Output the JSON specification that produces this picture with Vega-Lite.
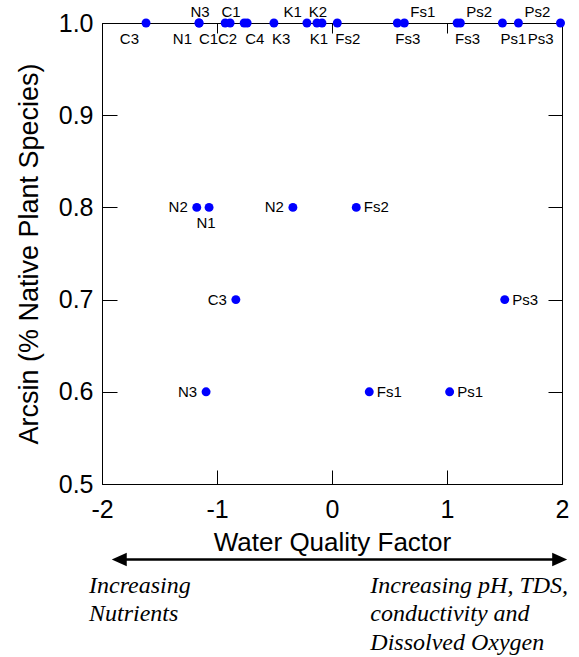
{
  "$schema": "https://vega.github.io/schema/vega-lite/v6.json",
  "width": 460,
  "height": 461,
  "autosize": "none",
  "padding": {"left": 102, "top": 23, "right": 17, "bottom": 173},
  "datasets": {
    "points": [
      {"site": "C3", "wqf": -1.617, "arcsin": 1.0, "pos": "BL"},
      {"site": "N3", "wqf": -1.156, "arcsin": 1.0, "pos": "A"},
      {"site": "N1", "wqf": -1.156, "arcsin": 1.0, "pos": "BL"},
      {"site": "C1", "wqf": -0.929, "arcsin": 1.0, "pos": "BL"},
      {"site": "C1", "wqf": -0.886, "arcsin": 1.0, "pos": "A"},
      {"site": "C2", "wqf": -0.764, "arcsin": 1.0, "pos": "BL"},
      {"site": "C4", "wqf": -0.738, "arcsin": 1.0, "pos": "BR"},
      {"site": "K3", "wqf": -0.505, "arcsin": 1.0, "pos": "BR"},
      {"site": "K1", "wqf": -0.218, "arcsin": 1.0, "pos": "AL"},
      {"site": "K2", "wqf": -0.131, "arcsin": 1.0, "pos": "A"},
      {"site": "K1", "wqf": -0.087, "arcsin": 1.0, "pos": "B"},
      {"site": "Fs2", "wqf": 0.046, "arcsin": 1.0, "pos": "BR"},
      {"site": "Fs3", "wqf": 0.568, "arcsin": 1.0, "pos": "BR"},
      {"site": "Fs1", "wqf": 0.629, "arcsin": 1.0, "pos": "AR"},
      {"site": "Fs3", "wqf": 1.088, "arcsin": 1.0, "pos": "BR"},
      {"site": "Ps2", "wqf": 1.116, "arcsin": 1.0, "pos": "AR"},
      {"site": "Ps1", "wqf": 1.482, "arcsin": 1.0, "pos": "BR"},
      {"site": "Ps2", "wqf": 1.621, "arcsin": 1.0, "pos": "AR"},
      {"site": "Ps3", "wqf": 1.987, "arcsin": 1.0, "pos": "BL"},
      {"site": "N2", "wqf": -1.176, "arcsin": 0.8, "pos": "L"},
      {"site": "N1", "wqf": -1.069, "arcsin": 0.8, "pos": "B"},
      {"site": "N2", "wqf": -0.34, "arcsin": 0.8, "pos": "L"},
      {"site": "Fs2", "wqf": 0.211, "arcsin": 0.8, "pos": "R"},
      {"site": "C3", "wqf": -0.836, "arcsin": 0.7, "pos": "L"},
      {"site": "Ps3", "wqf": 1.502, "arcsin": 0.7, "pos": "R"},
      {"site": "N3", "wqf": -1.095, "arcsin": 0.6, "pos": "L"},
      {"site": "Fs1", "wqf": 0.324, "arcsin": 0.6, "pos": "R"},
      {"site": "Ps1", "wqf": 1.023, "arcsin": 0.6, "pos": "R"}
    ],
    "arrow": [
      {"wqf": -1.85, "wqf2": 1.98, "arcsin": 0.418}
    ],
    "heads": [
      {"wqf": -1.85, "arcsin": 0.418, "dir": "left"},
      {"wqf": 1.98, "arcsin": 0.418, "dir": "right"}
    ],
    "notes": [
      {"wqf": -2.113, "arcsin": 0.382, "note": "Increasing\nNutrients"},
      {"wqf": 0.333, "arcsin": 0.382, "note": "Increasing pH, TDS,\nconductivity and\nDissolved Oxygen"}
    ]
  },
  "data": {"name": "points"},
  "resolve": {"axis": {"x": "independent", "y": "independent"}},
  "layer": [
    {
      "mark": {"type": "point", "filled": true, "color": "#0000ff", "opacity": 1, "size": 80},
      "encoding": {
        "x": {"field": "wqf", "type": "quantitative", "scale": {"domain": [-2, 2], "nice": false, "zero": false},
          "axis": {"orient": "bottom", "values": [-2, -1, 0, 1, 2], "labelExpr": "'' + datum.value", "tickSize": -14, "labelPadding": 27, "labelFlush": false, "title": "Water Quality Factor", "titleY": 66, "titleBaseline": "alphabetic"}},
        "y": {"field": "arcsin", "type": "quantitative", "scale": {"domain": [0.5, 1], "nice": false, "zero": false},
          "axis": {"orient": "left", "values": [0.5, 0.6, 0.7, 0.8, 0.9, 1.0], "format": ".1f", "tickSize": -15, "labelPadding": 24, "labelFlush": false, "title": "Arcsin (% Native Plant Species)", "titleFontSize": 27, "titleX": -65, "titleBaseline": "alphabetic"}}
      }
    },
    {
      "mark": {"type": "point", "opacity": 0},
      "encoding": {
        "x": {"field": "wqf", "type": "quantitative", "scale": {"domain": [-2, 2], "nice": false, "zero": false},
          "axis": {"orient": "top", "values": [-1, 0, 1], "labels": false, "tickSize": -10, "title": null}},
        "y": {"field": "arcsin", "type": "quantitative", "scale": {"domain": [0.5, 1], "nice": false, "zero": false},
          "axis": {"orient": "right", "values": [0.5, 0.6, 0.7, 0.8, 0.9, 1.0], "labels": false, "tickSize": -14, "title": null}}
      }
    },
    {
      "transform": [{"filter": "datum.pos === 'A'"}],
      "mark": {"type": "text", "fontSize": 15, "align": "center", "baseline": "middle", "dx": 1, "dy": -11.5, "color": "black"},
      "encoding": {
        "x": {"field": "wqf", "type": "quantitative", "axis": null},
        "y": {"field": "arcsin", "type": "quantitative", "axis": null},
        "text": {"field": "site"}
      }
    },
    {
      "transform": [{"filter": "datum.pos === 'AL'"}],
      "mark": {"type": "text", "fontSize": 15, "align": "right", "baseline": "middle", "dx": -5, "dy": -11.5, "color": "black"},
      "encoding": {
        "x": {"field": "wqf", "type": "quantitative", "axis": null},
        "y": {"field": "arcsin", "type": "quantitative", "axis": null},
        "text": {"field": "site"}
      }
    },
    {
      "transform": [{"filter": "datum.pos === 'AR'"}],
      "mark": {"type": "text", "fontSize": 15, "align": "left", "baseline": "middle", "dx": 6, "dy": -11.5, "color": "black"},
      "encoding": {
        "x": {"field": "wqf", "type": "quantitative", "axis": null},
        "y": {"field": "arcsin", "type": "quantitative", "axis": null},
        "text": {"field": "site"}
      }
    },
    {
      "transform": [{"filter": "datum.pos === 'B'"}],
      "mark": {"type": "text", "fontSize": 15, "align": "center", "baseline": "middle", "dx": -3, "dy": 15.5, "color": "black"},
      "encoding": {
        "x": {"field": "wqf", "type": "quantitative", "axis": null},
        "y": {"field": "arcsin", "type": "quantitative", "axis": null},
        "text": {"field": "site"}
      }
    },
    {
      "transform": [{"filter": "datum.pos === 'BL'"}],
      "mark": {"type": "text", "fontSize": 15, "align": "right", "baseline": "middle", "dx": -7, "dy": 15.5, "color": "black"},
      "encoding": {
        "x": {"field": "wqf", "type": "quantitative", "axis": null},
        "y": {"field": "arcsin", "type": "quantitative", "axis": null},
        "text": {"field": "site"}
      }
    },
    {
      "transform": [{"filter": "datum.pos === 'BR'"}],
      "mark": {"type": "text", "fontSize": 15, "align": "left", "baseline": "middle", "dx": -2, "dy": 15.5, "color": "black"},
      "encoding": {
        "x": {"field": "wqf", "type": "quantitative", "axis": null},
        "y": {"field": "arcsin", "type": "quantitative", "axis": null},
        "text": {"field": "site"}
      }
    },
    {
      "transform": [{"filter": "datum.pos === 'L'"}],
      "mark": {"type": "text", "fontSize": 15, "align": "right", "baseline": "middle", "dx": -9, "dy": 0, "color": "black"},
      "encoding": {
        "x": {"field": "wqf", "type": "quantitative", "axis": null},
        "y": {"field": "arcsin", "type": "quantitative", "axis": null},
        "text": {"field": "site"}
      }
    },
    {
      "transform": [{"filter": "datum.pos === 'R'"}],
      "mark": {"type": "text", "fontSize": 15, "align": "left", "baseline": "middle", "dx": 7.5, "dy": 0, "color": "black"},
      "encoding": {
        "x": {"field": "wqf", "type": "quantitative", "axis": null},
        "y": {"field": "arcsin", "type": "quantitative", "axis": null},
        "text": {"field": "site"}
      }
    },
    {
      "data": {"name": "arrow"},
      "mark": {"type": "rule", "strokeWidth": 2.5, "color": "black"},
      "encoding": {
        "x": {"field": "wqf", "type": "quantitative", "axis": null},
        "x2": {"field": "wqf2"},
        "y": {"field": "arcsin", "type": "quantitative", "axis": null}
      }
    },
    {
      "data": {"name": "heads"},
      "mark": {"type": "point", "filled": true, "color": "black", "opacity": 1, "size": 225},
      "encoding": {
        "x": {"field": "wqf", "type": "quantitative", "axis": null},
        "y": {"field": "arcsin", "type": "quantitative", "axis": null},
        "shape": {"field": "dir", "type": "nominal", "scale": {"domain": ["left", "right"], "range": ["M-1,0L1,-0.9L1,0.9Z", "M1,0L-1,-0.9L-1,0.9Z"]}, "legend": null}
      }
    },
    {
      "data": {"name": "notes"},
      "mark": {"type": "text", "font": "Liberation Serif", "fontStyle": "italic", "fontSize": 24, "align": "left", "baseline": "alphabetic", "lineBreak": "\n", "lineHeight": 28.5, "color": "black"},
      "encoding": {
        "x": {"field": "wqf", "type": "quantitative", "axis": null},
        "y": {"field": "arcsin", "type": "quantitative", "axis": null},
        "text": {"field": "note"}
      }
    }
  ],
  "config": {
    "font": "Liberation Sans",
    "view": {"stroke": "black", "strokeWidth": 1},
    "axis": {
      "domainColor": "black",
      "tickColor": "black",
      "labelColor": "black",
      "titleColor": "black",
      "grid": false,
      "labelFontSize": 25,
      "titleFontSize": 26,
      "titleFontWeight": "normal",
      "labelFont": "Liberation Sans",
      "titleFont": "Liberation Sans"
    }
  }
}
